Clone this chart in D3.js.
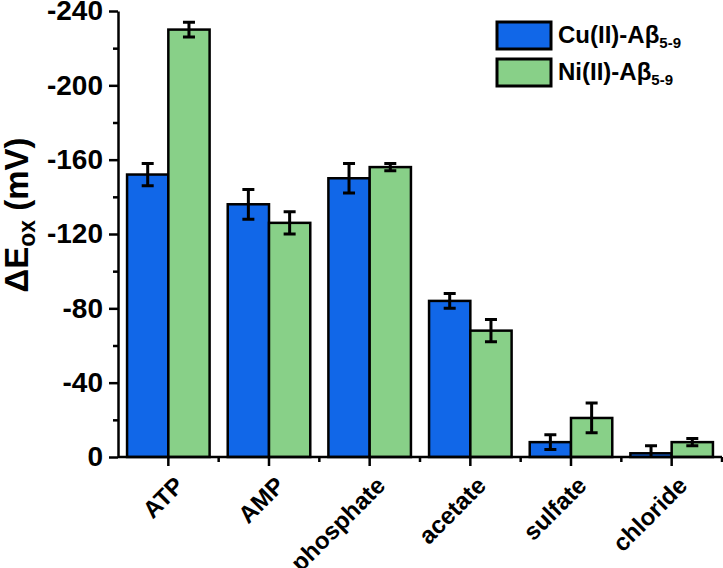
<!DOCTYPE html>
<meta charset="utf-8">
<style>
  body { margin: 0; background: #fff; }
  text { font-family: "Liberation Sans", Arial, sans-serif; font-weight: bold; fill: #000; }
  .axis path, .axis line { stroke: #000; stroke-width: 2.5; }
  .bar { stroke: #000; stroke-width: 2.5; }
  .err { stroke: #000; stroke-width: 3; fill: none; }
</style>
<body>
<script src="https://d3js.org/d3.v7.min.js"></script>
<script>

  var categories = ["ATP", "AMP", "phosphate", "acetate", "sulfate", "chloride"];
  var series = ["Cu(II)-Aβ", "Ni(II)-Aβ"];
  var cuValues = [-152, -136, -150, -84, -8, -2];
  var cuErrors = [6, 8, 8, 4, 4, 4];
  var niValues = [-230, -126, -156, -68, -21, -8];
  var niErrors = [4, 6, 2, 6, 8, 2];
  var yTicks = [0, -40, -80, -120, -160, -200, -240];

  var colors = ["#1167e8", "#88d088"];

  var width = 723,
    height = 568,
    mLeft = 118,
    mRight = 722,
    mTop = 11,
    mBottom = 457;

  var svg = d3.select("body").append("svg")
    .attr("width", width)
    .attr("height", height);

  var x = d3.scaleBand()
    .domain(categories)
    .range([mLeft, mRight])
    .paddingInner(0.18)
    .paddingOuter(0.09);

  var xSub = d3.scaleBand()
    .domain([0, 1])
    .range([0, x.bandwidth()]);

  var y = d3.scaleLinear()
    .domain([0, -240])
    .range([mBottom, mTop]);

  var rows = categories.map(function (c, i) {
    return [
      { cat: c, s: 0, v: cuValues[i], e: cuErrors[i] },
      { cat: c, s: 1, v: niValues[i], e: niErrors[i] }
    ];
  });

  var groups = svg.selectAll("g.grp")
    .data(rows)
    .enter().append("g")
    .attr("class", "grp")
    .attr("transform", function (d) { return "translate(" + x(d[0].cat) + ",0)"; });

  groups.selectAll("rect")
    .data(function (d) { return d; })
    .enter().append("rect")
    .attr("class", "bar")
    .attr("x", function (d) { return xSub(d.s); })
    .attr("width", xSub.bandwidth())
    .attr("y", function (d) { return y(d.v); })
    .attr("height", function (d) { return y(0) - y(d.v); })
    .attr("fill", function (d) { return colors[d.s]; });

  // error bars (part below zero is not drawn)
  var capW = 12;
  groups.selectAll("path.err")
    .data(function (d) { return d; })
    .enter().append("path")
    .attr("class", "err")
    .attr("d", function (d) {
      var cx = xSub(d.s) + xSub.bandwidth() / 2;
      var y1 = y(d.v - d.e), y2 = Math.min(y(d.v + d.e), y(0));
      var p = "M" + cx + "," + y1 + "V" + y2 +
        "M" + (cx - capW / 2) + "," + y1 + "H" + (cx + capW / 2);
      if (d.v + d.e < 0) p += "M" + (cx - capW / 2) + "," + y2 + "H" + (cx + capW / 2);
      return p;
    });

  // y axis + minor ticks
  var yAxis = svg.append("g")
    .attr("class", "axis")
    .attr("transform", "translate(" + mLeft + ",0)")
    .call(d3.axisLeft(y).tickValues(yTicks).tickSize(9).tickSizeOuter(0).tickPadding(6)
      .tickFormat(function (d) { return String(d); }));
  yAxis.selectAll("text").style("font-size", "28px");
  svg.append("g")
    .attr("class", "axis")
    .attr("transform", "translate(" + mLeft + ",0)")
    .call(d3.axisLeft(y).tickValues(d3.range(-20, -240, -40)).tickSize(5).tickFormat(""))
    .select("path").remove();

  // x axis
  var xAxis = svg.append("g")
    .attr("class", "axis")
    .attr("transform", "translate(0," + mBottom + ")")
    .call(d3.axisBottom(x).tickSize(9).tickSizeOuter(0));
  xAxis.select("path").attr("d", "M" + mLeft + ",0H" + mRight);
  xAxis.selectAll("text")
    .style("font-size", "24px")
    .attr("text-anchor", "end")
    .attr("y", 0)
    .attr("dy", 0)
    .attr("transform", "translate(17,30) rotate(-45)");

  // minor ticks between categories
  var bounds = categories.map(function (c) {
    return x(c) + x.bandwidth() + x.step() * x.paddingInner() / 2;
  });
  svg.append("g")
    .attr("class", "axis")
    .attr("transform", "translate(0," + mBottom + ")")
    .selectAll("line")
    .data(bounds.slice(0, -1).concat([mRight]))
    .enter().append("line")
    .attr("x1", function (d) { return d; })
    .attr("x2", function (d) { return d; })
    .attr("y1", 0).attr("y2", 5);

  // y title
  var yt = svg.append("text")
    .attr("transform", "translate(28,215) rotate(-90)")
    .attr("text-anchor", "middle")
    .style("font-size", "33px");
  yt.append("tspan").text("ΔE");
  yt.append("tspan").attr("dy", 7).style("font-size", "23px").text("ox");
  yt.append("tspan").attr("dy", -7).text(" (mV)");

  // legend
  var legend = svg.append("g")
    .selectAll("g")
    .data(series)
    .enter().append("g")
    .attr("transform", function (d, i) { return "translate(497," + (22 + i * 37) + ")"; });
  legend.append("rect")
    .attr("width", 54).attr("height", 27)
    .attr("fill", function (d, i) { return colors[i]; })
    .attr("stroke", "#000").attr("stroke-width", 3);
  var lt = legend.append("text")
    .attr("x", 61).attr("y", 21)
    .style("font-size", "24px");
  lt.append("tspan").text(function (d) { return d; });
  lt.append("tspan").attr("dy", 5).style("font-size", "15px").text("5-9");

</script>
</body>
